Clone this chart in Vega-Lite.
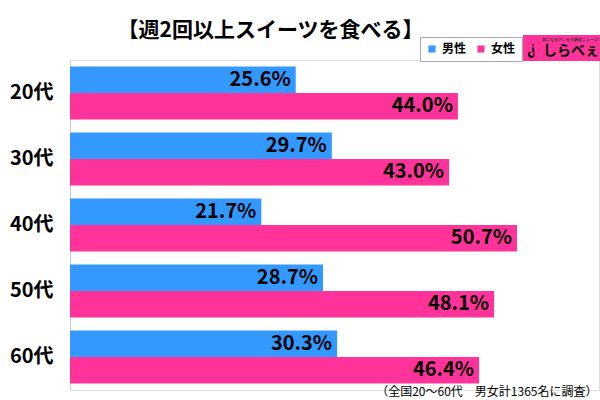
{
  "$schema": "https://vega.github.io/schema/vega-lite/v6.json",
  "width": 529,
  "height": 330,
  "autosize": {"type": "none"},
  "padding": {"left": 70, "top": 60, "right": 1, "bottom": 10},
  "background": "white",
  "title": {
    "text": "【週2回以上スイーツを食べる】",
    "fontSize": 21,
    "fontWeight": "bold",
    "font": "Noto Sans CJK JP",
    "anchor": "middle",
    "baseline": "alphabetic",
    "dx": -64,
    "dy": 24,
    "offset": 1,
    "color": "black"
  },
  "data": {
    "values": [
      {"age": "20代", "sex": "男性", "value": 25.6},
      {"age": "20代", "sex": "女性", "value": 44.0},
      {"age": "30代", "sex": "男性", "value": 29.7},
      {"age": "30代", "sex": "女性", "value": 43.0},
      {"age": "40代", "sex": "男性", "value": 21.7},
      {"age": "40代", "sex": "女性", "value": 50.7},
      {"age": "50代", "sex": "男性", "value": 28.7},
      {"age": "50代", "sex": "女性", "value": 48.1},
      {"age": "60代", "sex": "男性", "value": 30.3},
      {"age": "60代", "sex": "女性", "value": 46.4}
    ]
  },
  "transform": [{"calculate": "format(datum.value, '.1f') + '%'", "as": "label"}],
  "encoding": {
    "y": {
      "field": "age",
      "type": "nominal",
      "sort": ["20代", "30代", "40代", "50代", "60代"],
      "scale": {"paddingInner": 0.2, "paddingOuter": 0.1},
      "axis": {
        "title": null,
        "domainColor": "#cccccc",
        "ticks": false,
        "labelFontSize": 20,
        "labelFont": "Noto Sans CJK JP",
        "labelFontWeight": "bold",
        "labelColor": "black",
        "labelPadding": 17
      }
    },
    "x": {
      "field": "value",
      "type": "quantitative",
      "scale": {"domain": [0, 60]},
      "axis": {
        "domain": false,
        "ticks": false,
        "labels": false,
        "grid": false,
        "title": "（全国20～60代　男女計1365名に調査）",
        "titleFont": "Noto Sans CJK JP",
        "titleFontSize": 12,
        "titleFontWeight": "normal",
        "titleColor": "black",
        "titleAlign": "right",
        "titleBaseline": "alphabetic",
        "titleX": 527,
        "titleY": 5
      }
    },
    "yOffset": {"field": "sex", "sort": ["男性", "女性"], "scale": {"paddingInner": 0}}
  },
  "layer": [
    {
      "mark": {"type": "bar"},
      "encoding": {
        "color": {
          "field": "sex",
          "type": "nominal",
          "sort": ["男性", "女性"],
          "scale": {"domain": ["男性", "女性"], "range": ["#3399ff", "#ff3399"]},
          "legend": {
            "title": null,
            "orient": "none",
            "legendX": 350,
            "legendY": -23,
            "direction": "horizontal",
            "symbolType": "square",
            "symbolSize": 50,
            "symbolStrokeWidth": 0,
            "labelFontSize": 12,
            "labelFontWeight": "bold",
            "labelFont": "Noto Sans CJK JP",
            "labelColor": "black",
            "fillColor": "white",
            "strokeColor": "#aaaaaa",
            "padding": 6,
            "columnPadding": 8
          }
        }
      }
    },
    {
      "mark": {
        "type": "text",
        "align": "right",
        "baseline": "middle",
        "dx": -5,
        "fontSize": 20,
        "fontWeight": "bold",
        "font": "Noto Sans CJK JP",
        "color": "black"
      },
      "encoding": {"text": {"field": "label"}}
    },
    {
      "mark": {"type": "point", "opacity": 0, "filled": true, "color": "black"},
      "encoding": {
        "shape": {
          "datum": "しらべぇ",
          "scale": {"range": ["M-0.1,-1.1 L0.15,-1.1 L0.15,-0.85 L-0.1,-0.85 Z M-0.1,-0.6 L0.2,-0.6 L0.2,0.3 A0.55,0.55 0 1,1 -0.55,0.1 L-0.3,0.2 A0.3,0.3 0 1,0 -0.1,0.2 Z"]},
          "legend": {
            "orient": "none",
            "legendX": 453,
            "legendY": -25,
            "title": "気になるアレを大調査ニュース!",
            "titleFontSize": 4,
            "titleColor": "#333333",
            "titleAnchor": "end",
            "titlePadding": 2,
            "fillColor": "#ff3399",
            "padding": 3,
            "symbolSize": 150,
            "symbolFillColor": "black",
            "symbolOpacity": 1,
            "symbolStrokeWidth": 0,
            "labelFontSize": 14,
            "labelFontWeight": "bold",
            "labelFont": "Noto Sans CJK JP",
            "labelColor": "black",
            "labelOffset": 3
          }
        }
      }
    }
  ]
}
